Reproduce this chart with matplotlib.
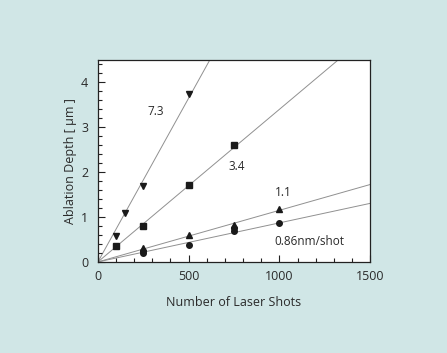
import numpy as np
import matplotlib
matplotlib.use("Agg")
import matplotlib.pyplot as plt
from matplotlib.ticker import MultipleLocator

plt.rcParams['font.family'] = ['Open Sans', 'DejaVu Sans']

# data (shots, depth in um)
shots_73 = [100, 150, 250, 500]
depth_73 = [0.58, 1.08, 1.70, 3.75]
shots_34 = [100, 250, 500, 750]
depth_34 = [0.35, 0.80, 1.72, 2.60]
shots_11 = [250, 500, 750, 1000]
depth_11 = [0.30, 0.60, 0.82, 1.18]
shots_086 = [250, 250, 500, 750, 750, 1000]
depth_086 = [0.20, 0.25, 0.38, 0.70, 0.75, 0.86]

# fitted slopes in um/shot
slopes = [0.0073, 0.0034, 0.00115, 0.00087]
labels = ["7.3", "3.4", "1.1", "0.86nm/shot"]
label_pos = [(275, 3.28), (720, 2.05), (975, 1.48), (970, 0.38)]

bg = "#d0e6e6"
txt = "#2a2a2a"

fig = plt.figure(figsize=(4.47, 3.53), dpi=100, facecolor=bg)
ax = fig.add_axes([0.219, 0.258, 0.609, 0.572])

xs = np.array([0, 1500])
for s in slopes:
    ax.plot(xs, s * xs, color="#909090", lw=0.7, zorder=1)

ax.plot(shots_73, depth_73, "v", color="#1a1a1a", ms=5, zorder=2)
ax.plot(shots_34, depth_34, "s", color="#1a1a1a", ms=5, zorder=2)
ax.plot(shots_11, depth_11, "^", color="#1a1a1a", ms=4.5, zorder=2)
ax.plot(shots_086, depth_086, "o", color="#1a1a1a", ms=4, zorder=2)

for lab, (x, y) in zip(labels, label_pos):
    ax.text(x, y, lab, fontsize=8.5, color=txt)

ax.set_xlim(0, 1500)
ax.set_ylim(0, 4.5)
ax.set_xticks([0, 500, 1000, 1500])
ax.set_yticks([0, 1, 2, 3, 4])
ax.xaxis.set_minor_locator(MultipleLocator(100))
ax.yaxis.set_minor_locator(MultipleLocator(0.2))
ax.tick_params(which="both", direction="in", top=False, right=False,
               colors="#222222", labelcolor=txt, labelsize=9)
ax.tick_params(which="major", length=5, width=0.8)
ax.tick_params(which="minor", length=3, width=0.8)
ax.tick_params(axis="y", which="major", pad=7)
ax.tick_params(axis="x", which="major", pad=6)
for sp in ax.spines.values():
    sp.set_linewidth(0.9)
    sp.set_color("#222222")

ax.set_xlabel("Number of Laser Shots", fontsize=9, color=txt, labelpad=9)
ax.set_ylabel("Ablation Depth [ \u03bcm ]", fontsize=9, color=txt, labelpad=3)

fig.savefig("out.png", dpi=100, facecolor=bg)
